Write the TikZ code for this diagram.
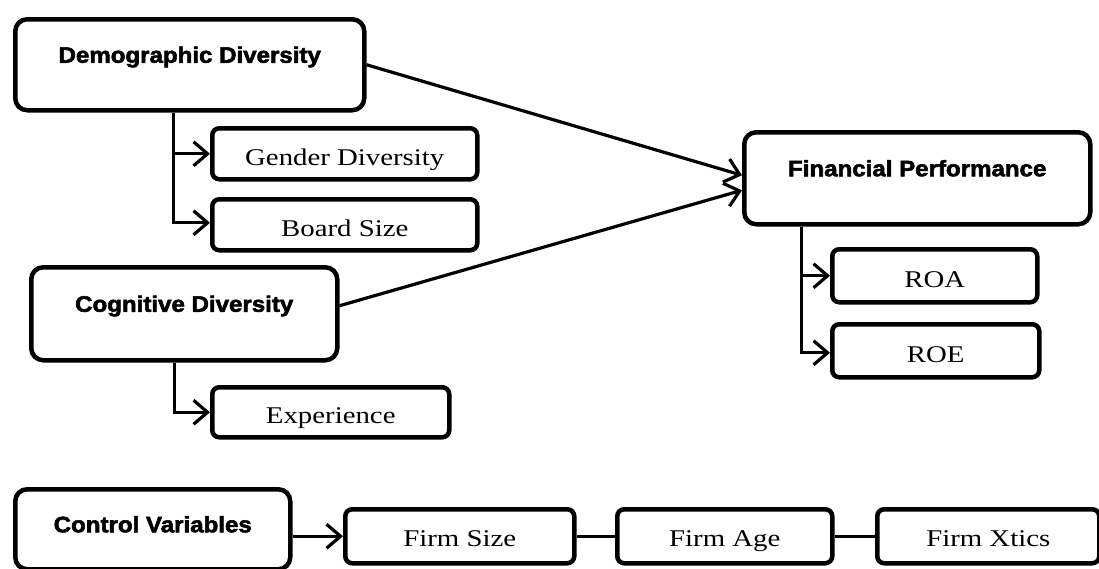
\documentclass[tikz,border=0pt]{standalone}
\usepackage{fontspec}
\setmainfont{Liberation Serif}[FakeStretch=1.2]
\newfontfamily\headfont{Liberation Sans Bold}[FakeStretch=1.08, FakeBold=2.5]
\usetikzlibrary{arrows.meta,calc}
\begin{document}
\begin{tikzpicture}[x=1pt,y=-1pt,
  bigbox/.style={draw, line width=4.5pt, rounded corners=12pt, anchor=north west, inner sep=0pt,
    font=\headfont\fontsize{22.3}{24}\selectfont, text height=15pt, text depth=19pt},
  smallbox/.style={draw, line width=4.5pt, rounded corners=7pt, anchor=north west, inner sep=0pt,
    font=\fontsize{24}{27}\selectfont, text height=23pt, text depth=0pt},
  conn/.style={line width=3.2pt, -{Straight Barb[length=14pt,width=24pt]}},
  link/.style={line width=3.2pt}]
\useasboundingbox (0,0) rectangle (1099,568);
% main boxes
\node[bigbox, minimum width=349pt, minimum height=91pt] (dd) at (13,17) {Demographic Diversity};
\node[bigbox, minimum width=306pt, minimum height=93pt] (cd) at (29,265) {Cognitive Diversity};
\node[bigbox, minimum width=346pt, minimum height=92pt] (fp) at (742,130) {Financial Performance};
\node[bigbox, minimum width=275pt, minimum height=80pt, text height=15pt, text depth=9pt] (cv) at (13,487) {Control Variables};
% sub boxes
\node[smallbox, minimum width=265pt, minimum height=51pt] (gd) at (210,126) {Gender Diversity};
\node[smallbox, minimum width=265pt, minimum height=51pt] (bs) at (210,197) {Board Size};
\node[smallbox, minimum width=237pt, minimum height=50pt] (ex) at (210,385) {Experience};
\node[smallbox, minimum width=205pt, minimum height=53pt] (roa) at (830,247) {ROA};
\node[smallbox, minimum width=207pt, minimum height=53pt] (roe) at (830,322) {ROE};
\node[smallbox, minimum width=229pt, minimum height=54pt, text height=20pt] (fs) at (343,507) {Firm Size};
\node[smallbox, minimum width=215pt, minimum height=54pt, text height=20pt] (fa) at (615,507) {Firm Age};
\node[smallbox, minimum width=222pt, minimum height=54pt, text height=20pt] (fx) at (875,507) {Firm Xtics};
% connectors
\draw[conn] (dd.east) -- ([yshift=3pt]fp.west);
\draw[conn] ([yshift=8pt]cd.east) -- ([yshift=-12pt]fp.west);
\draw[conn] ([xshift=-16pt]dd.south) |- ([yshift=2pt]bs.west);
\draw[conn] ([xshift=-16pt]dd.south |- gd.west) -- (gd.west);
\draw[conn] ([xshift=-10pt]cd.south) |- (ex.west);
\draw[conn] ([xshift=-116pt]fp.south) |- ([yshift=-2pt]roe.west);
\draw[conn] ([xshift=-116pt]fp.south |- roa.west) -- (roa.west);
\draw[conn] (cv.east |- fs.west) -- (fs.west);
\draw[link] (fs.east) -- (fa.west);
\draw[link] (fa.east) -- (fx.west);
\end{tikzpicture}
\end{document}
